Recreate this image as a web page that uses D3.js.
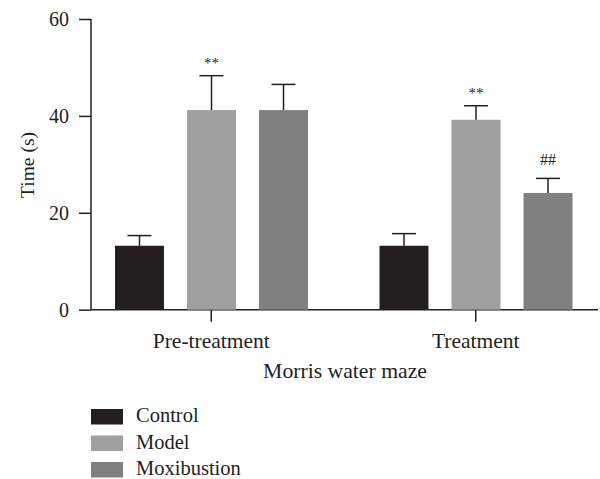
<!DOCTYPE html>
<html>
<head>
<meta charset="utf-8">
<script src="https://cdn.jsdelivr.net/npm/d3@7"></script>
<style>
  body { margin: 0; background: #fff; }
  svg text { font-family: 'Liberation Serif', 'Times New Roman', serif; fill: #231f20; }
</style>
</head>
<body>
<svg id="chart" width="600" height="479"></svg>
<script>
// 数据
const groups = ['Pre-treatment', 'Treatment'];
const series = ['Control', 'Model', 'Moxibustion'];
const colors = ['#231f20', '#a0a0a0', '#808080'];
const means = [
  [13.2, 41.2, 41.2],
  [13.2, 39.2, 24.1]
];
const errs = [
  [2.1, 7.1, 5.3],
  [2.5, 2.9, 3.0]
];
const marks = [
  ['', '**', ''],
  ['', '**', '##']
];
const yTicks = [0, 20, 40, 60];

const svg = d3.select('#chart');
const ink = '#231f20';

const y = d3.scaleLinear().domain([0, 60]).range([309.7, 19]);
const x0 = d3.scaleBand().domain(groups).range([79, 608]);
const x1 = d3.scaleBand().domain(series).range([36, 229]).paddingInner(0.32);

// y 轴
const yAxis = svg.append('g')
  .attr('transform', 'translate(91,0)')
  .call(d3.axisLeft(y).tickValues(yTicks).tickSize(12).tickPadding(10).tickSizeOuter(0));
yAxis.select('.domain').attr('stroke', ink).attr('stroke-width', 1.5).attr('d', `M0,${y(60)}V${y(0)}`);
yAxis.selectAll('.tick line').attr('stroke', ink).attr('stroke-width', 1.5);
yAxis.selectAll('.tick text').attr('font-size', 20).attr('font-family', "'Liberation Serif', serif").attr('fill', ink);

// x 轴
svg.append('line')
  .attr('x1', 91).attr('x2', 598)
  .attr('y1', y(0)).attr('y2', y(0))
  .attr('stroke', ink).attr('stroke-width', 1.5);
const xAxis = svg.append('g')
  .attr('transform', `translate(0,${y(0)})`)
  .call(d3.axisBottom(x0).tickSize(12).tickPadding(11).tickSizeOuter(0));
xAxis.select('.domain').remove();
xAxis.selectAll('.tick line').attr('stroke', ink).attr('stroke-width', 1.5);
xAxis.selectAll('.tick text').attr('font-size', 21.5).attr('font-family', "'Liberation Serif', serif").attr('fill', ink);

// 柱子
const gBars = svg.append('g');
groups.forEach((gName, gi) => {
  const g = gBars.append('g').attr('transform', `translate(${x0(gName)},0)`);
  const rows = series.map((s, si) => ({ s, si, m: means[gi][si], e: errs[gi][si], mark: marks[gi][si] }));

  g.selectAll('rect').data(rows).join('rect')
    .attr('x', d => x1(d.s))
    .attr('width', x1.bandwidth())
    .attr('y', d => y(d.m))
    .attr('height', d => y(0) - y(d.m))
    .attr('fill', d => colors[d.si]);

  // 误差线
  const cx = d => x1(d.s) + x1.bandwidth() / 2;
  g.selectAll('line.err').data(rows).join('line').attr('class', 'err')
    .attr('x1', cx).attr('x2', cx)
    .attr('y1', d => y(d.m)).attr('y2', d => y(d.m + d.e))
    .attr('stroke', ink).attr('stroke-width', 1.5);
  g.selectAll('line.cap').data(rows).join('line').attr('class', 'cap')
    .attr('x1', d => cx(d) - 12).attr('x2', d => cx(d) + 12)
    .attr('y1', d => y(d.m + d.e)).attr('y2', d => y(d.m + d.e))
    .attr('stroke', ink).attr('stroke-width', 1.5);

  // 显著性标记
  g.selectAll('text.mark').data(rows.filter(d => d.mark)).join('text').attr('class', 'mark')
    .attr('x', cx)
    .attr('y', d => y(d.m + d.e) - (d.mark === '##' ? 13 : 8))
    .attr('text-anchor', 'middle')
    .attr('font-size', d => d.mark === '##' ? 16 : 15)
    .attr('fill', '#444')
    .text(d => d.mark);
});

// 轴标题
svg.append('text')
  .attr('transform', 'translate(34,165) rotate(-90)')
  .attr('text-anchor', 'middle')
  .attr('font-size', 19.5)
  .text('Time (s)');
svg.append('text')
  .attr('x', 345).attr('y', 378)
  .attr('text-anchor', 'middle')
  .attr('font-size', 21.7)
  .text('Morris water maze');

// 图例
const legend = svg.append('g').attr('transform', 'translate(91,409)');
series.forEach((s, i) => {
  const row = legend.append('g').attr('transform', `translate(0,${i * 26.5})`);
  row.append('rect').attr('width', 32).attr('height', 15.5).attr('fill', colors[i]);
  row.append('text').attr('x', 45).attr('y', 13).attr('font-size', 20.5).text(s);
});
</script>
</body>
</html>
